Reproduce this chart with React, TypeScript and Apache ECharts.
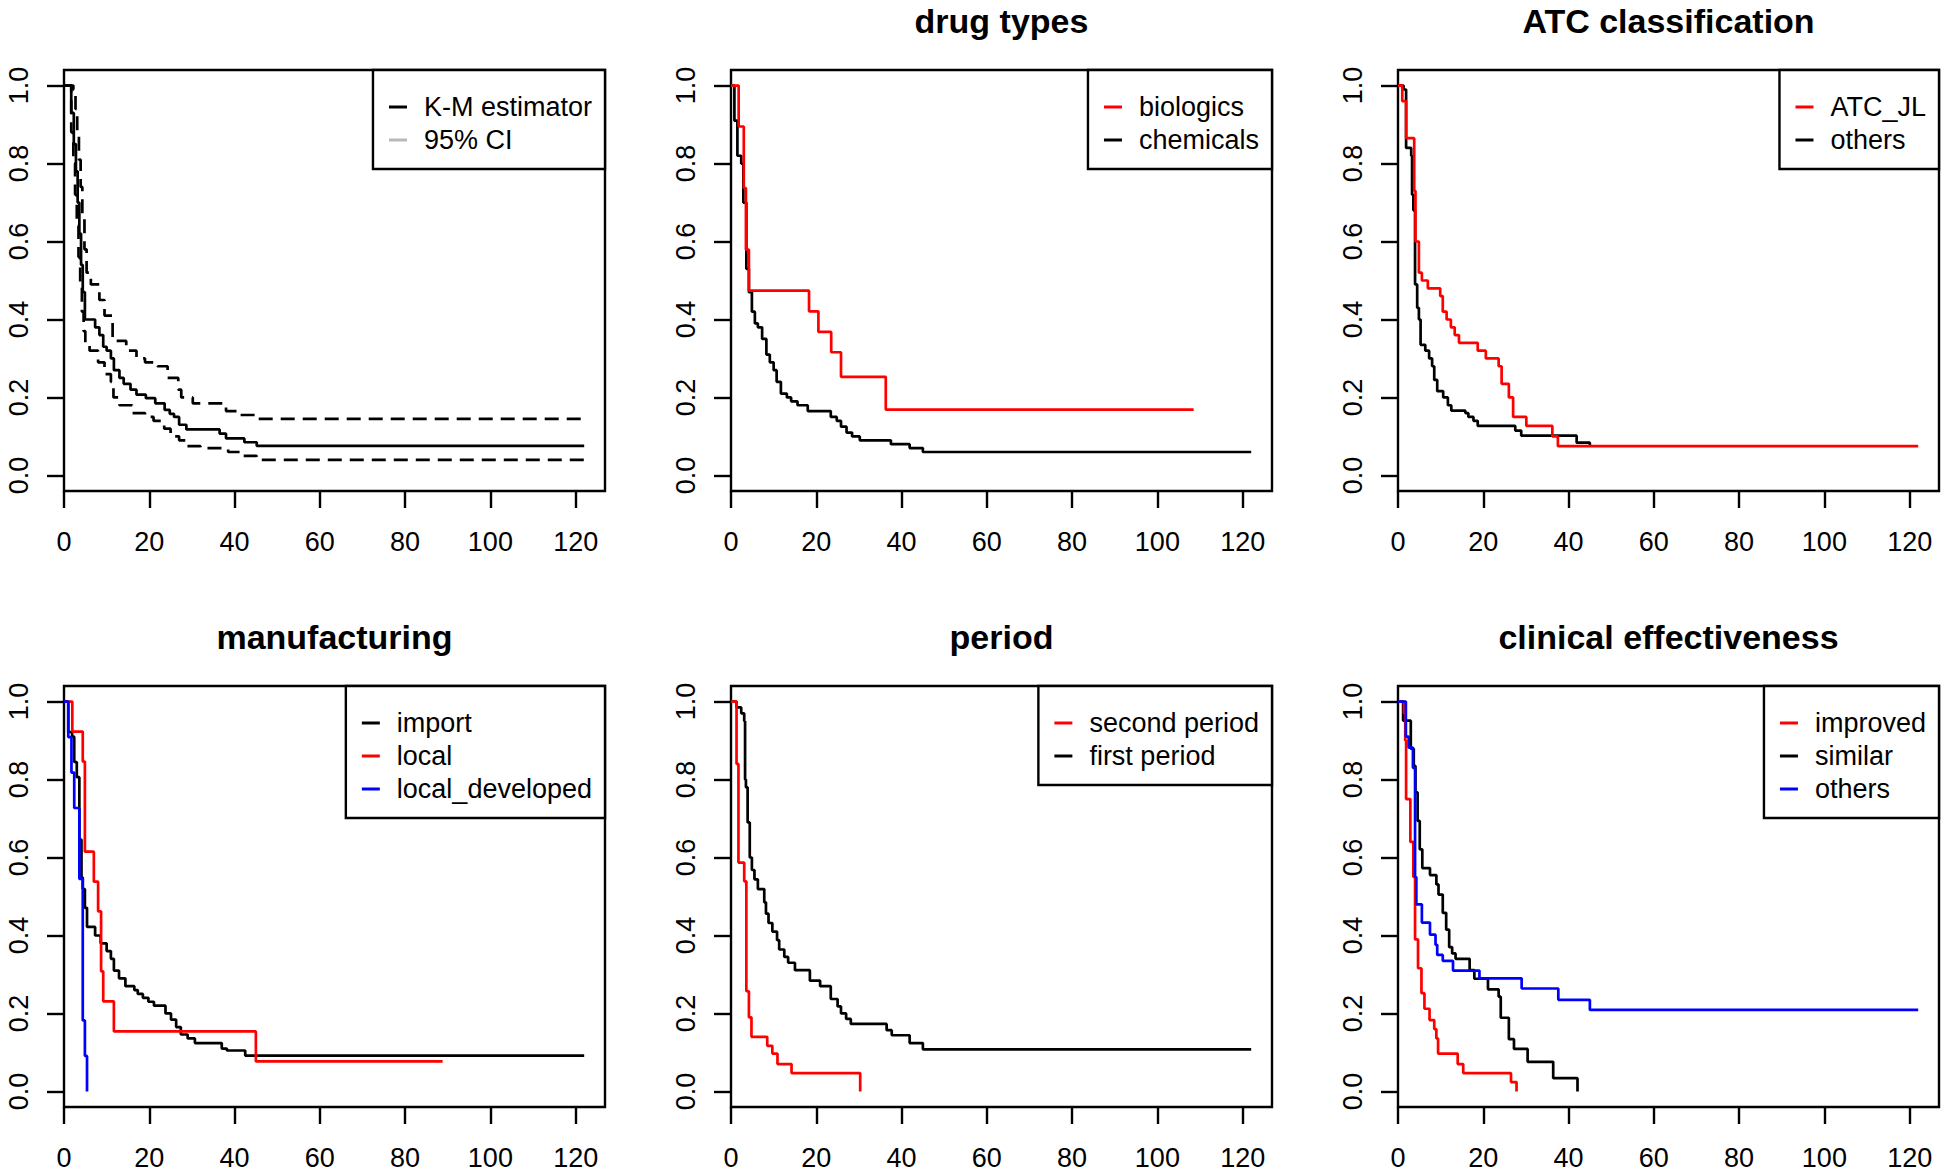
import React, { useEffect, useRef } from "react";
import * as echarts from "echarts";

const FONT = '"Liberation Sans", Arial, Helvetica, sans-serif';
const X_MAX = 122 * 1.04;
const X_TICKS = [0, 20, 40, 60, 80, 100, 120];
const Y_TICKS = [0, 0.2, 0.4, 0.6, 0.8, 1.0];

// Panel 1: overall K-M with 95% CI
const kmTime = [0, 1.7, 2.3, 2.8, 3.2, 3.6, 4.0, 4.4, 4.9, 7.3, 8.3, 9.2, 10.0, 11.0, 11.7, 13.0, 14.0, 15.6, 17.0, 19.2, 21.4, 23.6, 24.8, 25.8, 27.0, 28.7, 36.5, 38.0, 42.3, 45.2, 122];
const kmSurv = [1, 0.93, 0.85, 0.78, 0.70, 0.62, 0.54, 0.47, 0.40, 0.38, 0.36, 0.33, 0.32, 0.30, 0.27, 0.25, 0.235, 0.22, 0.207, 0.198, 0.185, 0.168, 0.158, 0.15, 0.13, 0.118, 0.107, 0.095, 0.085, 0.076, 0.076];
const ciUpTime = [0, 2.2, 2.7, 3.1, 3.5, 3.9, 4.3, 4.8, 5.3, 6.3, 8.3, 9.5, 11.4, 14.6, 17.0, 19.0, 21.9, 24.3, 26.8, 27.5, 30.2, 38.0, 41.4, 44.8, 122];
const ciUpSurv = [1, 0.99, 0.94, 0.88, 0.81, 0.74, 0.66, 0.58, 0.52, 0.49, 0.45, 0.41, 0.345, 0.32, 0.30, 0.29, 0.28, 0.25, 0.22, 0.20, 0.185, 0.165, 0.155, 0.145, 0.145];
const ciLoTime = [0, 1.7, 2.2, 2.6, 3.0, 3.4, 3.8, 4.2, 4.6, 5.0, 6.0, 8.0, 9.5, 11.0, 11.6, 13.0, 16.0, 19.0, 21.0, 23.5, 25.0, 27.0, 28.5, 32.0, 38.5, 42.0, 45.2, 122];
const ciLoSurv = [1, 0.88, 0.80, 0.72, 0.64, 0.56, 0.49, 0.42, 0.37, 0.34, 0.32, 0.29, 0.26, 0.24, 0.20, 0.18, 0.16, 0.15, 0.14, 0.12, 0.10, 0.09, 0.075, 0.07, 0.06, 0.05, 0.04, 0.04];

// Panel 2: drug types
const bioTime = [0, 1.8, 3.0, 3.5, 4.2, 18.3, 20.5, 23.5, 25.8, 36.3, 108.5];
const bioSurv = [1, 0.895, 0.737, 0.579, 0.474, 0.421, 0.368, 0.316, 0.253, 0.169, 0.169];
const chemTime = [0, 0.8, 1.5, 2.4, 2.9, 3.6, 4.2, 4.9, 5.6, 6.3, 7.3, 8.3, 9.1, 10.0, 10.7, 11.7, 13.1, 14.1, 15.6, 18.0, 23.4, 24.8, 25.8, 27.1, 28.4, 30.2, 37.5, 41.9, 45.0, 122];
const chemSurv = [1, 0.91, 0.82, 0.80, 0.70, 0.53, 0.47, 0.42, 0.39, 0.38, 0.35, 0.31, 0.29, 0.27, 0.24, 0.21, 0.20, 0.19, 0.18, 0.165, 0.15, 0.14, 0.125, 0.11, 0.10, 0.09, 0.08, 0.07, 0.06, 0.06];

// Panel 3: ATC classification
const atcTime = [0, 1.0, 1.9, 3.8, 4.1, 4.9, 5.6, 7.0, 9.9, 10.5, 11.4, 12.4, 13.3, 14.3, 18.7, 20.6, 23.6, 24.3, 26.0, 27.0, 30.1, 36.2, 37.5, 122];
const atcSurv = [1, 0.96, 0.865, 0.73, 0.60, 0.52, 0.50, 0.48, 0.46, 0.42, 0.40, 0.38, 0.36, 0.34, 0.32, 0.30, 0.28, 0.235, 0.20, 0.15, 0.127, 0.10, 0.075, 0.075];
const atcOthTime = [0, 1.3, 1.9, 3.1, 3.3, 3.6, 4.0, 4.5, 4.9, 5.3, 6.4, 7.3, 8.0, 8.5, 9.2, 10.6, 11.7, 12.5, 15.8, 16.5, 17.7, 18.7, 27.5, 28.9, 41.9, 45.0];
const atcOthSurv = [1, 0.99, 0.84, 0.82, 0.72, 0.68, 0.49, 0.43, 0.40, 0.335, 0.32, 0.30, 0.28, 0.245, 0.216, 0.20, 0.18, 0.166, 0.16, 0.15, 0.14, 0.127, 0.115, 0.102, 0.084, 0.075];

// Panel 4: manufacturing
const importTime = [0, 1.0, 1.9, 2.4, 3.0, 3.6, 4.1, 4.4, 4.9, 5.4, 7.3, 8.6, 10.0, 11.0, 11.7, 12.9, 14.4, 16.5, 17.3, 18.5, 19.8, 21.1, 23.8, 25.1, 26.3, 27.4, 29.0, 30.7, 37.0, 38.2, 42.5, 122];
const importSurv = [1, 0.922, 0.91, 0.845, 0.806, 0.646, 0.549, 0.519, 0.471, 0.422, 0.40, 0.38, 0.36, 0.34, 0.31, 0.29, 0.27, 0.26, 0.25, 0.24, 0.23, 0.22, 0.20, 0.184, 0.165, 0.146, 0.136, 0.124, 0.11, 0.105, 0.092, 0.092];
const localTime = [0, 1.95, 4.4, 4.9, 7.0, 8.0, 8.7, 9.2, 11.7, 45.0, 88.8];
const localSurv = [1, 0.923, 0.846, 0.615, 0.538, 0.462, 0.308, 0.231, 0.154, 0.077, 0.077];
const devTime = [0, 1.0, 1.75, 2.4, 3.6, 4.4, 4.9, 5.4];
const devSurv = [1, 0.909, 0.818, 0.727, 0.545, 0.182, 0.091, 0];

// Panel 5: period
const secondTime = [0, 1.3, 1.75, 3.1, 3.6, 4.2, 4.8, 8.5, 9.7, 10.9, 14.2, 30.3];
const secondSurv = [1, 0.84, 0.587, 0.539, 0.257, 0.19, 0.14, 0.117, 0.097, 0.07, 0.047, 0];
const firstTime = [0, 1.3, 2.4, 3.1, 3.3, 3.5, 3.9, 4.4, 4.9, 5.5, 6.3, 7.8, 8.2, 8.8, 9.7, 10.8, 11.3, 12.5, 13.4, 15.0, 18.5, 20.9, 23.4, 25.0, 25.8, 27.0, 28.1, 36.5, 37.7, 41.9, 45.0, 122];
const firstSurv = [1, 0.985, 0.97, 0.95, 0.80, 0.78, 0.69, 0.60, 0.568, 0.544, 0.519, 0.485, 0.456, 0.432, 0.41, 0.388, 0.364, 0.345, 0.33, 0.311, 0.284, 0.27, 0.237, 0.218, 0.20, 0.186, 0.173, 0.157, 0.144, 0.124, 0.108, 0.108];

// Panel 6: clinical effectiveness
const improvedTime = [0, 1.4, 1.7, 1.9, 2.9, 3.6, 4.0, 4.7, 5.5, 6.2, 7.4, 8.5, 9.0, 9.4, 14.0, 15.3, 26.5, 27.8];
const improvedSurv = [1, 0.97, 0.90, 0.75, 0.64, 0.55, 0.39, 0.316, 0.252, 0.212, 0.183, 0.16, 0.136, 0.097, 0.07, 0.047, 0.024, 0];
const similarTime = [0, 1.2, 3.0, 3.7, 4.1, 4.6, 5.1, 5.7, 7.5, 9.0, 9.5, 10.5, 11.3, 12.0, 12.7, 13.5, 16.8, 17.9, 21.1, 23.6, 24.1, 26.0, 27.2, 30.4, 36.4, 42.1];
const similarSurv = [1, 0.951, 0.879, 0.835, 0.767, 0.694, 0.621, 0.573, 0.555, 0.531, 0.505, 0.458, 0.415, 0.37, 0.354, 0.34, 0.311, 0.289, 0.262, 0.243, 0.189, 0.134, 0.109, 0.076, 0.034, 0];
const ceOthTime = [0, 1.85, 2.5, 3.5, 4.0, 4.3, 5.6, 7.5, 8.8, 9.2, 10.5, 12.9, 19.1, 29.0, 37.6, 45.0, 122];
const ceOthSurv = [1, 0.91, 0.882, 0.83, 0.55, 0.48, 0.433, 0.402, 0.376, 0.35, 0.335, 0.31, 0.29, 0.264, 0.235, 0.209, 0.209];

const RED = "#ff0000";
const BLUE = "#0000ff";
const BLACK = "#000000";

type Curve = { time: number[]; surv: number[]; color: string; dashed?: boolean; name: string };
type LegendItem = { label: string; color: string };
type Panel = { title: string; curves: Curve[]; legend: LegendItem[] };

const panels: Panel[] = [
  {
    title: "",
    curves: [
      { name: "K-M estimator", time: kmTime, surv: kmSurv, color: BLACK },
      { name: "95% CI upper", time: ciUpTime, surv: ciUpSurv, color: BLACK, dashed: true },
      { name: "95% CI lower", time: ciLoTime, surv: ciLoSurv, color: BLACK, dashed: true },
    ],
    legend: [
      { label: "K-M estimator", color: BLACK },
      { label: "95% CI", color: "#b8b8b8" },
    ],
  },
  {
    title: "drug types",
    curves: [
      { name: "chemicals", time: chemTime, surv: chemSurv, color: BLACK },
      { name: "biologics", time: bioTime, surv: bioSurv, color: RED },
    ],
    legend: [
      { label: "biologics", color: RED },
      { label: "chemicals", color: BLACK },
    ],
  },
  {
    title: "ATC classification",
    curves: [
      { name: "others", time: atcOthTime, surv: atcOthSurv, color: BLACK },
      { name: "ATC_JL", time: atcTime, surv: atcSurv, color: RED },
    ],
    legend: [
      { label: "ATC_JL", color: RED },
      { label: "others", color: BLACK },
    ],
  },
  {
    title: "manufacturing",
    curves: [
      { name: "import", time: importTime, surv: importSurv, color: BLACK },
      { name: "local", time: localTime, surv: localSurv, color: RED },
      { name: "local_developed", time: devTime, surv: devSurv, color: BLUE },
    ],
    legend: [
      { label: "import", color: BLACK },
      { label: "local", color: RED },
      { label: "local_developed", color: BLUE },
    ],
  },
  {
    title: "period",
    curves: [
      { name: "first period", time: firstTime, surv: firstSurv, color: BLACK },
      { name: "second period", time: secondTime, surv: secondSurv, color: RED },
    ],
    legend: [
      { label: "second period", color: RED },
      { label: "first period", color: BLACK },
    ],
  },
  {
    title: "clinical effectiveness",
    curves: [
      { name: "similar", time: similarTime, surv: similarSurv, color: BLACK },
      { name: "improved", time: improvedTime, surv: improvedSurv, color: RED },
      { name: "others", time: ceOthTime, surv: ceOthSurv, color: BLUE },
    ],
    legend: [
      { label: "improved", color: RED },
      { label: "similar", color: BLACK },
      { label: "others", color: BLUE },
    ],
  },
];

const COL_LEFT = [64, 731, 1398];
const ROW_TOP = [70, 686];
const BOX_W = 541;
const BOX_H = 421;
const LEG_FONT = 27;
const LEG_ROW = 33;

function measure(text: string, size: number, weight = "normal"): number {
  const c = document.createElement("canvas");
  const ctx = c.getContext("2d");
  if (!ctx) return text.length * size * 0.55;
  ctx.font = `${weight} ${size}px ${FONT}`;
  return ctx.measureText(text).width;
}

export default function App() {
  const ref = useRef<HTMLDivElement>(null);

  useEffect(() => {
    document.body.style.margin = "0";
    document.body.style.overflow = "hidden";
    if (!ref.current) return;
    const chart = echarts.init(ref.current, undefined, { renderer: "svg" });

    const grids: any[] = [];
    const xAxes: any[] = [];
    const yAxes: any[] = [];
    const series: any[] = [];
    const elements: any[] = [];

    panels.forEach((p, i) => {
      const col = i % 3;
      const row = Math.floor(i / 3);
      const left = COL_LEFT[col];
      const top = ROW_TOP[row];
      grids.push({
        left,
        top,
        width: BOX_W,
        height: BOX_H,
        show: true,
        borderColor: "#000",
        borderWidth: 2.4,
        backgroundColor: "transparent",
        containLabel: false,
        outerBoundsMode: "none",
      });
      xAxes.push({
        gridIndex: i,
        type: "value",
        min: 0,
        max: X_MAX,
        axisLine: { show: false, onZero: false },
        splitLine: { show: false },
        axisTick: { show: true, length: 17, lineStyle: { color: "#000", width: 2.4 }, customValues: X_TICKS },
        axisLabel: {
          customValues: X_TICKS,
          margin: 37,
          fontSize: 27,
          lineHeight: 27,
          fontFamily: FONT,
          color: "#000",
          formatter: (v: number) => String(Math.round(v)),
        },
      });
      yAxes.push({
        gridIndex: i,
        type: "value",
        min: -0.04,
        max: 1.04,
        axisLine: { show: false, onZero: false },
        splitLine: { show: false },
        axisTick: { show: true, length: 17, lineStyle: { color: "#000", width: 2.4 }, customValues: Y_TICKS },
        axisLabel: {
          customValues: Y_TICKS,
          rotate: 90,
          margin: 32,
          fontSize: 27,
          lineHeight: 27,
          fontFamily: FONT,
          color: "#000",
          formatter: (v: number) => v.toFixed(1),
        },
      });
      p.curves.forEach((c) => {
        series.push({
          type: "line",
          name: c.name,
          xAxisIndex: i,
          yAxisIndex: i,
          step: "end",
          showSymbol: false,
          symbol: "none",
          silent: true,
          data: c.time.map((t, k) => [t, c.surv[k]]),
          lineStyle: { color: c.color, width: 2.7, type: c.dashed ? [14, 8] : "solid" },
          itemStyle: { color: c.color },
        });
      });

      // Title
      if (p.title) {
        elements.push({
          type: "text",
          x: left + BOX_W / 2,
          y: top - 49,
          z: 100,
          style: {
            text: p.title,
            fill: "#000",
            fontSize: 34,
            fontWeight: "bold",
            fontFamily: FONT,
            align: "center",
            verticalAlign: "middle",
          },
        });
      }

      // Legend (R style, top right corner of the plot box)
      const maxW = Math.max(...p.legend.map((l) => measure(l.label, LEG_FONT)));
      const lw = 51 + maxW + 13;
      const n = p.legend.length;
      const lh = (n + 1) * LEG_ROW;
      const lx = left + BOX_W - lw;
      const ly = top;
      elements.push({
        type: "rect",
        z: 90,
        shape: { x: lx, y: ly, width: lw, height: lh },
        style: { fill: "#fff", stroke: "#000", lineWidth: 2.4 },
      });
      p.legend.forEach((l, k) => {
        const cy = ly + 37 + LEG_ROW * k;
        elements.push({
          type: "line",
          z: 100,
          shape: { x1: lx + 16, y1: cy, x2: lx + 34, y2: cy },
          style: { stroke: l.color, lineWidth: 3 },
        });
        elements.push({
          type: "text",
          z: 100,
          x: lx + 51,
          y: cy,
          style: {
            text: l.label,
            fill: "#000",
            fontSize: LEG_FONT,
            fontFamily: FONT,
            align: "left",
            verticalAlign: "middle",
          },
        });
      });
    });

    chart.setOption({
      animation: false,
      backgroundColor: "#ffffff",
      grid: grids,
      xAxis: xAxes,
      yAxis: yAxes,
      series,
      graphic: { elements },
    });

    return () => {
      chart.dispose();
    };
  }, []);

  return <div ref={ref} style={{ width: 1946, height: 1175 }} />;
}
